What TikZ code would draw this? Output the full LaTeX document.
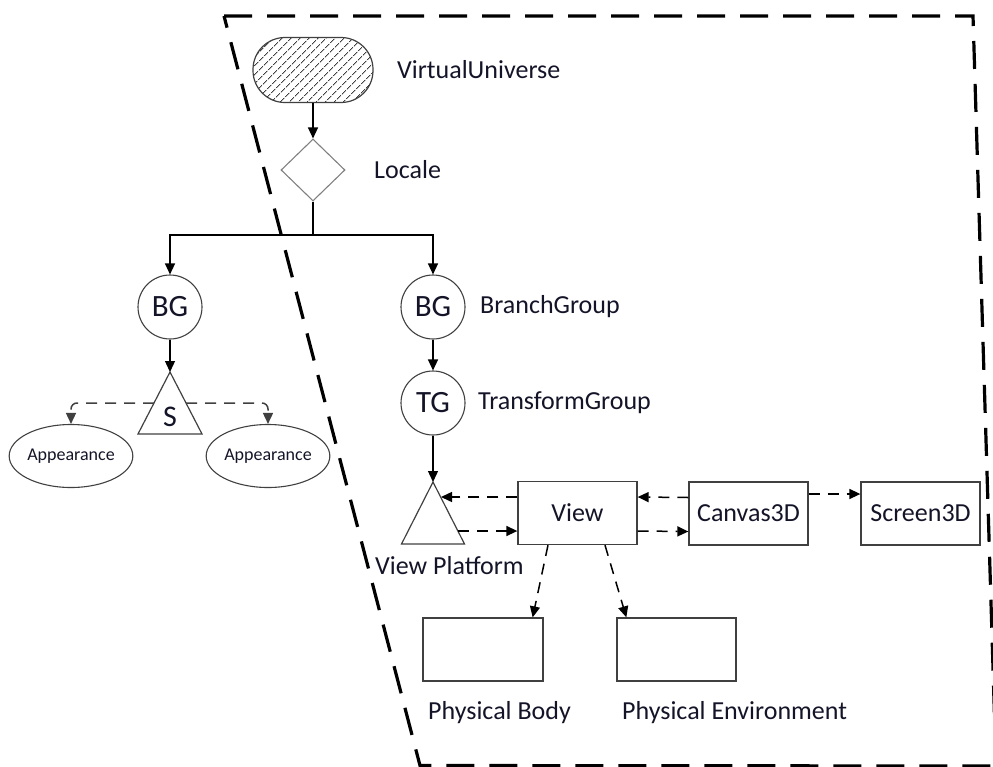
\documentclass[tikz,border=0pt]{standalone}
\usepackage{fontspec}
\setmainfont{Carlito}
\usetikzlibrary{shapes.geometric,arrows.meta,patterns.meta,calc}
\definecolor{boxgray}{HTML}{404040}
\definecolor{txt}{HTML}{141428}

\begin{document}
\begin{tikzpicture}[x=1pt,y=-1pt,
  txtfont/.style={text=txt,font=\fontsize{26}{31}\selectfont},
  box/.style={draw=boxgray,line width=1.3pt,minimum width=119pt,minimum height=63pt,inner sep=0,txtfont},
  circ/.style={circle,draw=boxgray,line width=1.1pt,minimum size=64pt,inner sep=0,text=txt,font=\fontsize{31}{36}\selectfont},
  oval/.style={ellipse,draw=boxgray,line width=1.1pt,minimum width=118pt,minimum height=63pt,inner sep=0,text=txt,font=\fontsize{18}{22}\selectfont},
  lbl/.style={anchor=west,inner sep=0,txtfont},
  tri/.style={draw=boxgray,line width=1.2pt,line join=miter},
  solidarrow/.style={line width=1.3pt,-{Triangle[length=11pt,width=10pt]}},
  dasharrow/.style={line width=1.5pt,dash pattern=on 11pt off 8pt,-{Triangle[length=11pt,width=10pt]}},
  frame/.style={line width=3.2pt,dash pattern=on 28pt off 15pt},
]
\useasboundingbox (0,0) rectangle (993,766);
\clip (0,0) rectangle (993,766);

% outer dashed boundary
\draw[frame] (224,16) -- (973,16) -- (996,766) -- (420,765.5) -- cycle;

% universe and locale (hatching rises to the right)
\node[draw=boxgray,line width=1.2pt,rounded corners=32pt,minimum width=120pt,minimum height=65pt,inner sep=0,
      pattern={Lines[angle=45,distance=6.5pt,line width=0.8pt]},pattern color=boxgray] (vu) at (313,70) {};
\node[lbl] (vulbl) at (397,70) {VirtualUniverse};
\node[diamond,draw=gray,line width=1.1pt,minimum width=64pt,minimum height=62pt,inner sep=0] (loc) at (313,170) {};
\node[lbl] (loclbl) at (374,170) {Locale};
\draw[solidarrow] (vu) -- (loc);

% branch groups
\coordinate (split) at (313,235);
\node[circ] (bgl) at (170,307) {BG};
\node[circ] (bgr) at (433,307) {BG};
\node[lbl] (bglbl) at (480,307) {BranchGroup};
\draw[line width=1.3pt] (loc.south) -- (split);
\draw[solidarrow] (split) -| (bgl.north);
\draw[solidarrow] (split) -| (bgr.north);

% left subtree: shape and appearances
\coordinate (sapex) at (170,372);
\draw[tri] (sapex) -- ++(32,62) -- ++(-64,0) -- cycle;
\node[inner sep=0,text=txt,font=\fontsize{30}{34}\selectfont] (slbl) at (170,417) {S};
\draw[solidarrow] (bgl) -- (sapex);
\node[oval] (apl) at (71,456) {Appearance};
\node[oval] (apr) at (268,456) {Appearance};
\coordinate (sl) at (154,403);
\coordinate (sr) at (186,403);
\draw[dasharrow,draw=boxgray,rounded corners=6pt] (sl) -| (apl.north);
\draw[dasharrow,draw=boxgray,rounded corners=6pt] (sr) -| (apr.north);

% right subtree: transform group and view platform
\node[circ] (tg) at (433,403) {TG};
\node[lbl] (tglbl) at (478,403) {TransformGroup};
\draw[solidarrow] (bgr) -- (tg);
\coordinate (vp) at (433,482);
\draw[tri] (vp) -- ++(31.5,62) -- ++(-63,0) -- cycle;
\node[lbl] (vplbl) at (375,566) {View Platform};
\draw[solidarrow] (tg) -- (vp);
\coordinate (vpin) at (441,497);
\coordinate (vpout) at (458,531);

% view objects
\node[box] (view) at (577.5,513) {View};
\node[box] (canvas) at (748.5,513.5) {Canvas3D};
\node[box] (screen) at (920.5,513.5) {Screen3D};
\node[box,minimum width=120pt] (pb) at (483,649.5) {};
\node[box,minimum width=119pt] (pe) at (676.5,649.5) {};
\node[lbl] (pblbl) at (428,713) {Physical Body};
\node[lbl] (pelbl) at (622,713) {Physical Environment};

\draw[dasharrow] ($(view.west)+(0,-16)$) -- (vpin);
\draw[dasharrow] (vpout) -- ($(view.west)+(0,18)$);
\draw[dasharrow] ($(canvas.west)+(0,-16)$) -- ($(view.east)+(0,-16)$);
\draw[dasharrow] ($(view.east)+(0,18)$) -- ($(canvas.west)+(0,18)$);
\draw[dasharrow] ($(canvas.east)+(0,-19.5)$) -- ($(screen.west)+(0,-19.5)$);
\draw[dasharrow] ($(view.south)+(-29.5,0)$) -- ($(pb.north east)+(-11,0)$);
\draw[dasharrow] ($(view.south)+(27.5,0)$) -- ($(pe.north west)+(10,0)$);
\end{tikzpicture}
\end{document}
